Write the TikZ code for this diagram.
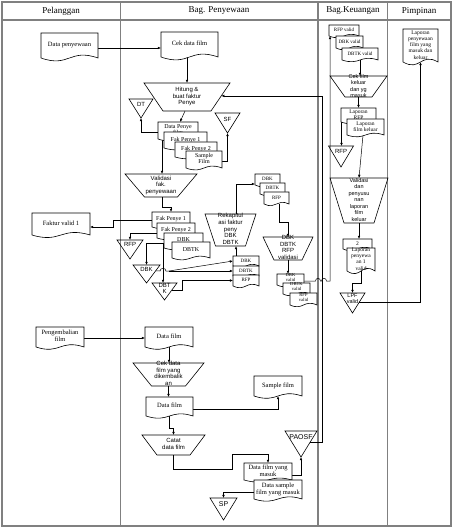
\documentclass[tikz,border=0pt]{standalone}
\usepackage{fontspec}
\setmainfont{Liberation Serif}
\newfontfamily\sansfam{Liberation Sans}
\usetikzlibrary{arrows.meta,calc}
\makeatletter
\pgfdeclareshape{flowdoc}{%
  \inheritsavedanchors[from=rectangle]%
  \inheritanchorborder[from=rectangle]%
  \inheritanchor[from=rectangle]{center}%
  \inheritanchor[from=rectangle]{north}%
  \inheritanchor[from=rectangle]{south}%
  \inheritanchor[from=rectangle]{east}%
  \inheritanchor[from=rectangle]{west}%
  \inheritanchor[from=rectangle]{north east}%
  \inheritanchor[from=rectangle]{north west}%
  \inheritanchor[from=rectangle]{south east}%
  \inheritanchor[from=rectangle]{south west}%
  \backgroundpath{%
    \southwest\edef\fdxa{\the\pgf@x}\edef\fdya{\the\pgf@y}%
    \northeast\edef\fdxb{\the\pgf@x}\edef\fdyb{\the\pgf@y}%
    \pgfmathsetmacro\fdxc{0.5*\fdxa+0.5*\fdxb}%
    \pgfmathsetmacro\fdk{min(10,max(6,0.4*(\fdyb-\fdya)))}%
    \pgfmathsetmacro\fdyu{\fdya+\fdk}%
    \pgfmathsetmacro\fdyd{\fdya-\fdk}%
    \pgfpathmoveto{\pgfpoint{\fdxa}{\fdyb}}%
    \pgfpathlineto{\pgfpoint{\fdxb}{\fdyb}}%
    \pgfpathlineto{\pgfpoint{\fdxb}{\fdya}}%
    \pgfpathcurveto{\pgfpoint{\fdxc pt}{\fdyu pt}}{\pgfpoint{\fdxc pt}{\fdyd pt}}{\pgfpoint{\fdxa}{\fdya}}%
    \pgfpathclose
  }%
}
\makeatother
\pgfdeclarelayer{lanes}
\pgfdeclarelayer{wires}
\pgfsetlayers{lanes,wires,main}
\newcommand\tx[1]{\raisebox{-1.3pt}[0pt][0pt]{\begin{tabular}{@{}c@{}}#1\end{tabular}}}
\newcommand\txu[1]{\raisebox{0pt}[0pt][0pt]{\begin{tabular}{@{}c@{}}#1\end{tabular}}}
\newcommand\fdoc{\fontsize{6.5}{7}\selectfont}
\newcommand\fmid{\fontsize{6}{6.5}\selectfont}
\newcommand\fsml{\fontsize{5}{5.6}\selectfont}
\newcommand\ftiny{\fontsize{4.6}{4.9}\selectfont}
\newcommand\fkeu{\fontsize{5.5}{6.2}\selectfont}
\newcommand\fsan{\sansfam\fontsize{6}{6.6}\selectfont}
\newcommand\fsanK{\sansfam\fontsize{5.5}{6.5}\selectfont}
\newcommand\fsanB{\sansfam\fontsize{7}{7.5}\selectfont}
\newcommand\fhead{\fontsize{9}{10}\selectfont}
\newcommand\mktrap[2]{\draw[shp] (#1.north west) -- (#1.north east) -- ([xshift=-#2pt]#1.south east) -- ([xshift=#2pt]#1.south west) -- cycle;}
\newcommand\mktri[2]{\draw[shp] (#1.north west) -- (#1.north east) -- ([yshift=-#2pt]#1.north) -- cycle;}
\tikzset{
  shp/.style={draw=black, line width=0.6pt},
  doc/.style={shape=flowdoc, shp, fill=white, inner sep=0pt, outer sep=0pt, font=\fdoc},
  trap/.style={inner sep=0pt, outer sep=0pt, font=\fsan},
  tri/.style={inner sep=0pt, outer sep=0pt, anchor=north, font=\fsan},
  con/.style={draw=black, line width=0.5pt},
  arr/.style={con, -{Latex[length=3.2pt,width=2.6pt]}},
  lane/.style={draw=black!50, line width=1.2pt},
}
\begin{document}
\begin{tikzpicture}[x=1pt,y=-1pt]
\useasboundingbox (0,0) rectangle (454,529);
\begin{pgfonlayer}{lanes}
\draw[lane] (2,2) rectangle (451,526);
\draw[lane] (2,20) -- (451,20);
\draw[lane] (120.5,2) -- (120.5,526);
\draw[lane] (318,2) -- (318,526);
\draw[lane] (387.5,2) -- (387.5,526);
\end{pgfonlayer}
\node[font=\fhead] (h1) at (61,11) {Pelanggan};
\node[font=\fhead] (h2) at (219,11) {Bag. Penyewaan};
\node[font=\fhead] (h3) at (353,11) {Bag.Keuangan};
\node[font=\fhead] (h4) at (419,11) {Pimpinan};
% Pelanggan
\node[doc,minimum width=57pt,minimum height=25pt] (dp) at (69.5,45.5) {\tx{Data penyewaan}};
\node[doc,minimum width=58pt,minimum height=22pt] (fv) at (61,224) {\tx{Faktur valid 1}};
\node[doc,minimum width=48pt,minimum height=20pt] (pf) at (60,337) {\tx{Pengembalian\\film}};
% Penyewaan top
\node[doc,minimum width=57pt,minimum height=25pt] (cdf) at (189.5,44.5) {\tx{Cek data film}};
\node[trap,minimum width=86pt,minimum height=28pt] (hit) at (187,97) {\tx{Hitung \&\\buat faktur\\Penye}}; \mktrap{hit}{19}
\node[tri,minimum width=24pt,minimum height=10pt] (dt) at (141,99) {DT}; \mktri{dt}{19}
\node[tri,minimum width=25pt,minimum height=12pt] (sf) at (227.5,113) {SF}; \mktri{sf}{20}
\node[doc,font=\fmid,minimum width=40pt,minimum height=17pt] (dpf) at (178,130.5) {\tx{Data Penye\\film}};
\node[doc,font=\fmid,minimum width=43pt,minimum height=16pt] (fp1a) at (185.5,140) {\tx{Fak Penye 1}};
\node[doc,font=\fmid,minimum width=42pt,minimum height=15pt] (fp2a) at (196,149.5) {\tx{Fak Penye 2}};
\node[doc,font=\fmid,minimum width=36pt,minimum height=17pt] (sfd) at (204,159.5) {\tx{Sample\\Film}};
\node[trap,minimum width=72pt,minimum height=23pt] (val) at (161,185.5) {\tx{Validasi\\fak.\\penyewaan}}; \mktrap{val}{19.5}
\node[doc,font=\fmid,minimum width=38pt,minimum height=15pt] (fp1b) at (171,219.5) {\tx{Fak Penye 1}};
\node[doc,font=\fmid,minimum width=38pt,minimum height=15pt] (fp2b) at (176,230.5) {\tx{Fak Penye 2}};
\node[doc,font=\fmid,minimum width=39pt,minimum height=15pt] (dbkd) at (183.5,240.5) {\tx{DBK}};
\node[doc,font=\fmid,minimum width=38pt,minimum height=16pt] (dbtkd) at (191,250) {\tx{DBTK}};
\node[tri,minimum width=26pt,minimum height=8pt] (rfpt) at (130,240) {RFP}; \mktri{rfpt}{19}
\node[tri,minimum width=27pt,minimum height=8pt] (dbkt) at (146.5,265) {DBK}; \mktri{dbkt}{18}
\node[tri,minimum width=25pt,minimum height=13pt] (dbtkt) at (164.5,283) {\tx{DBT\\K}}; \mktri{dbtkt}{17}
\node[trap,minimum width=51pt,minimum height=32pt] (rek) at (230.5,230) {\tx{Rekapitul\\asi faktur\\peny\\DBK\\DBTK}}; \mktrap{rek}{10.5}
\node[doc,font=\fsml,minimum width=26pt,minimum height=10pt] (s3a) at (246,261) {\tx{DBK}};
\node[doc,font=\fsml,minimum width=26pt,minimum height=10pt] (s3b) at (246,271) {\tx{DBTK}};
\node[doc,font=\fsml,minimum width=26pt,minimum height=11pt] (s3c) at (246,280.5) {\tx{RFP}};
\node[doc,font=\fsml,minimum width=25pt,minimum height=11pt] (s2a) at (267.5,179.5) {\tx{DBK}};
\node[doc,font=\fsml,minimum width=25pt,minimum height=11pt] (s2b) at (272.5,188.5) {\tx{DBTK}};
\node[doc,font=\fsml,minimum width=25pt,minimum height=12pt] (s2c) at (276.5,198) {\tx{RFP}};
\node[trap,minimum width=50pt,minimum height=23pt] (vt) at (288,248.5) {\tx{DBK\\DBTK\\RFP\\validasi}}; \mktrap{vt}{11}
\node[doc,font=\ftiny,minimum width=27pt,minimum height=11pt] (s4a) at (290.5,279.5) {\txu{DBK\\valid}};
\node[doc,font=\ftiny,minimum width=27pt,minimum height=11pt] (s4b) at (296.5,288.5) {\txu{DBTK\\valid}};
\node[doc,font=\ftiny,minimum width=27pt,minimum height=12pt] (s4c) at (303.5,299) {\txu{RFP\\valid}};
% Penyewaan bottom
\node[doc,minimum width=48pt,minimum height=20pt] (df1) at (169,337) {\tx{Data film}};
\node[trap,minimum width=71pt,minimum height=23pt] (cdk) at (168.5,374.5) {\tx{Cek data\\film yang\\dikembalik\\an}}; \mktrap{cdk}{18.5}
\node[doc,minimum width=47pt,minimum height=19pt] (df2) at (169.5,406.5) {\tx{Data film}};
\node[doc,minimum width=48pt,minimum height=20pt] (sfm) at (278,386) {\tx{Sample film}};
\node[trap,minimum width=63pt,minimum height=20pt] (cat) at (173.5,445) {\tx{Catat\\data film}}; \mktrap{cat}{15}
\node[doc,minimum width=48pt,minimum height=17pt] (dfm) at (268,471.5) {\tx{Data film yang\\masuk}};
\node[doc,minimum width=48pt,minimum height=19pt] (dsm) at (278,489.5) {\tx{Data sample\\film yang masuk}};
\node[tri,font=\fsanB,minimum width=32pt,minimum height=12pt] (pa) at (301,431) {PAOSF}; \mktri{pa}{26}
\node[tri,font=\fsanB,minimum width=27pt,minimum height=12pt] (sp) at (223.5,498) {SP}; \mktri{sp}{22}
% Keuangan
\node[doc,font=\fsml,minimum width=30pt,minimum height=11pt] (k1) at (344,30.5) {\tx{RFP valid}};
\node[doc,font=\fsml,minimum width=27pt,minimum height=12pt] (k2) at (349.5,42) {\tx{DBK valid}};
\node[doc,font=\fsml,minimum width=36pt,minimum height=12pt] (k3) at (360,54) {\tx{DBTK valid}};
\node[trap,font=\fsanK,minimum width=57pt,minimum height=21pt] (cfk) at (358.5,86.5) {\tx{Cek film\\keluar\\dan yg\\masuk}}; \mktrap{cfk}{15}
\node[doc,font=\fkeu,minimum width=35pt,minimum height=14pt] (lrfp) at (358.5,115) {\tx{Laporan\\RFP}};
\node[doc,font=\fkeu,minimum width=37pt,minimum height=16pt] (lfk) at (365.5,127) {\tx{Laporan\\film keluar}};
\node[tri,minimum width=25pt,minimum height=10pt] (rfk) at (341,146) {RFP}; \mktri{rfk}{21}
\node[trap,font=\fsanK,minimum width=58pt,minimum height=45pt] (vdp) at (359,200.5) {\tx{Validasi\\dan\\penyusu\\nan\\laporan\\film\\keluar}}; \mktrap{vdp}{14}
\node[doc,font=\fkeu,minimum width=29pt,minimum height=10pt] (d2) at (357.5,244) {\tx{2}};
\node[doc,font=\fkeu,minimum width=28pt,minimum height=23pt] (lp1) at (361,259.5) {\tx{Laporan\\penyewa\\an 1\\valid}};
\node[tri,font=\fsanK,minimum width=25pt,minimum height=12pt] (lpf) at (352.5,293) {\tx{LPF\\valid}}; \mktri{lpf}{20}
% Pimpinan
\node[doc,font=\fkeu,minimum width=35pt,minimum height=33pt] (lpm) at (420.5,45.5) {\tx{Laporan\\penyewaan\\film yang\\masuk dan\\keluar}};
% helper points on slanted edges
\coordinate (hitR) at ($(hit.north east)!0.46!([xshift=-19pt]hit.south east)$);
\coordinate (paR) at ($(pa.north east)!0.45!([yshift=-26pt]pa.north)$);
\coordinate (lpfR) at ($(lpf.north east)!0.45!([yshift=-20pt]lpf.north)$);
\coordinate (dbktR) at ($(dbkt.north east)!0.33!([yshift=-18pt]dbkt.north)$);
\coordinate (dbtktR) at ($(dbtkt.north east)!0.4!([yshift=-17pt]dbtkt.north)$);
\begin{pgfonlayer}{wires}
\draw[arr] ([yshift=-2.5pt]dp.east) -- ([yshift=-2.5pt]dp.east -| cdf.west);
\draw[arr] ([xshift=-2.5pt]cdf.south) -- ([xshift=-2.5pt]cdf.south |- hit.north);
\draw[arr] ([xshift=-2pt]hit.south) -- ([xshift=2pt]dpf.north);
\draw[arr] ([yshift=-1.5pt]dpf.west) -| ([yshift=-19pt]dt.north);
\draw[arr] ([yshift=-2pt]sfd.east) -| ([yshift=-20pt]sf.north);
\draw[arr] ([xshift=-16pt]dpf.south) -- ([xshift=-16pt]dpf.south |- val.north);
\draw[arr] ([xshift=1pt]val.south) -- ++(0,10) -| (fp1b.north);
\draw[arr] ([yshift=-1pt]fp1b.west) -- ++(-39,0) |- ([yshift=-3pt]fv.east);
\draw[arr] ([yshift=-2.5pt]fp2b.west) -| (rfpt.north);
\draw[arr] ([yshift=-2.5pt]dbkd.west) -| (dbkt.north);
\draw[arr] ([yshift=-2.5pt]dbkd.west) -| ([xshift=-1.5pt]dbtkt.north);
\draw[con] (dbktR) -- (160,271) .. controls (160,267.5) and (166,267.5) .. (166,271) -- (169,271) coordinate (jn);
\draw[arr] (jn) -- (s3a.west);
\draw[arr] (jn) -- (jn -| s3b.west);
\draw[arr] (dbtktR) -- ++(10,0) |- (s3c.west);
\draw[arr] ([xshift=-10pt]s3a.north) -- ([xshift=-10pt]s3a.north |- rek.south);
\draw[arr] ([xshift=5.5pt]rek.north) |- ([yshift=-4.5pt]s2a.west);
\draw[arr] ([xshift=2.5pt]s2c.south) -- ++(0,18) -| (vt.north);
\draw[arr] (vt.south) -- (vt.south |- s4a.north);
\coordinate (kx) at ([xshift=1pt]k1.south west);
\draw[arr] ([yshift=-1.5pt]s4a.east) -- (315.5,281) .. controls (315.5,277.5) and (320.5,277.5) .. (320.5,281) -- (321.5,281) .. controls (321.5,277.5) and (326.5,277.5) .. (326.5,281) -- (kx |- 0,281) -- (kx);
\draw[arr] (k3.south) -- (k3.south |- cfk.north);
\draw[arr] (cfk.south) -- (cfk.south |- lrfp.north);
\draw[arr] ([xshift=0.5pt]lrfp.south west) -- ([xshift=0.5pt]lrfp.south west |- rfk.north);
\draw[arr] ([xshift=-2.5pt]lfk.south) -- (vdp.north);
\draw[arr] (vdp.south) -- (vdp.south |- d2.north);
\draw[arr] (lp1.south) -- ++(0,12.5) -| (lpf.north);
\draw[arr] (lpfR) -| (lpm.south);
\draw[arr] ([yshift=-1pt]pf.east) -- ([yshift=-1pt]pf.east -| df1.west);
\draw[arr] (df1.south) -- (df1.south |- cdk.north);
\draw[arr] (cdk.south) -- (cdk.south |- df2.north);
\draw[arr] ([yshift=-2.5pt]df2.east) -| (sfm.south);
\draw[arr] (df2.south) -- ++(0,12) -| (cat.north);
\draw[arr] (cat.south) -- ++(0,14) -- ++(58.5,0) -- ++(0,-15) -| (dfm.north);
\draw[arr] ([yshift=-3.5pt]dfm.east) -| ([yshift=-26pt]pa.north);
\draw[arr] ([yshift=-2.5pt]dsm.west) -| (sp.north);
\draw[arr] (paR) -- ++(12.5,0) |- (hitR);
\end{pgfonlayer}
\end{tikzpicture}
\end{document}
